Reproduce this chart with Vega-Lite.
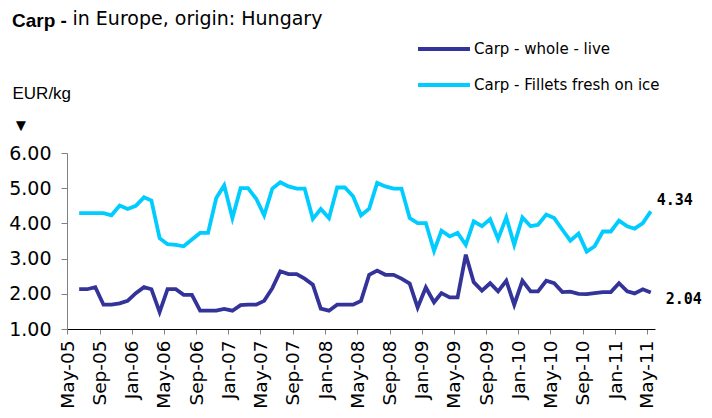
{
  "$schema": "https://vega.github.io/schema/vega-lite/v6.json",
  "width": 588,
  "height": 176,
  "autosize": "none",
  "padding": {"left": 67, "top": 153, "right": 57, "bottom": 89},
  "background": "white",
  "config": {"view": {"stroke": null}, "font": "Liberation Sans"},
  "title": {"text": "Carp -", "anchor": "start", "frame": "group", "fontSize": 19, "fontWeight": "bold", "font": "Liberation Sans", "color": "#000000", "dx": -55, "dy": 22, "offset": 0},
  "data": {"values": [
    {"date": "2005-06-16", "whole": 2.13, "fillets": 4.29},
    {"date": "2005-07-16", "whole": 2.13, "fillets": 4.29},
    {"date": "2005-08-16", "whole": 2.19, "fillets": 4.29},
    {"date": "2005-09-16", "whole": 1.69, "fillets": 4.29},
    {"date": "2005-10-16", "whole": 1.69, "fillets": 4.23},
    {"date": "2005-11-16", "whole": 1.73, "fillets": 4.51},
    {"date": "2005-12-16", "whole": 1.80, "fillets": 4.41},
    {"date": "2006-01-16", "whole": 2.02, "fillets": 4.50},
    {"date": "2006-02-16", "whole": 2.19, "fillets": 4.74},
    {"date": "2006-03-16", "whole": 2.13, "fillets": 4.65},
    {"date": "2006-04-16", "whole": 1.48, "fillets": 3.58},
    {"date": "2006-05-16", "whole": 2.13, "fillets": 3.41},
    {"date": "2006-06-16", "whole": 2.13, "fillets": 3.39},
    {"date": "2006-07-16", "whole": 1.97, "fillets": 3.35},
    {"date": "2006-08-16", "whole": 1.97, "fillets": 3.54},
    {"date": "2006-09-16", "whole": 1.52, "fillets": 3.73},
    {"date": "2006-10-16", "whole": 1.52, "fillets": 3.73},
    {"date": "2006-11-16", "whole": 1.52, "fillets": 4.72},
    {"date": "2006-12-16", "whole": 1.57, "fillets": 5.08},
    {"date": "2007-01-16", "whole": 1.52, "fillets": 4.15},
    {"date": "2007-02-16", "whole": 1.68, "fillets": 5.00},
    {"date": "2007-03-16", "whole": 1.69, "fillets": 5.00},
    {"date": "2007-04-16", "whole": 1.69, "fillets": 4.70},
    {"date": "2007-05-16", "whole": 1.80, "fillets": 4.23},
    {"date": "2007-06-16", "whole": 2.16, "fillets": 4.99},
    {"date": "2007-07-16", "whole": 2.64, "fillets": 5.17},
    {"date": "2007-08-16", "whole": 2.56, "fillets": 5.05},
    {"date": "2007-09-16", "whole": 2.56, "fillets": 4.99},
    {"date": "2007-10-16", "whole": 2.43, "fillets": 4.99},
    {"date": "2007-11-16", "whole": 2.26, "fillets": 4.13},
    {"date": "2007-12-16", "whole": 1.58, "fillets": 4.41},
    {"date": "2008-01-16", "whole": 1.52, "fillets": 4.15},
    {"date": "2008-02-16", "whole": 1.69, "fillets": 5.02},
    {"date": "2008-03-16", "whole": 1.69, "fillets": 5.02},
    {"date": "2008-04-16", "whole": 1.69, "fillets": 4.77},
    {"date": "2008-05-16", "whole": 1.80, "fillets": 4.23},
    {"date": "2008-06-16", "whole": 2.54, "fillets": 4.42},
    {"date": "2008-07-16", "whole": 2.66, "fillets": 5.15},
    {"date": "2008-08-16", "whole": 2.54, "fillets": 5.05},
    {"date": "2008-09-16", "whole": 2.54, "fillets": 4.99},
    {"date": "2008-10-16", "whole": 2.43, "fillets": 4.99},
    {"date": "2008-11-16", "whole": 2.29, "fillets": 4.15},
    {"date": "2008-12-16", "whole": 1.61, "fillets": 4.01},
    {"date": "2009-01-16", "whole": 2.18, "fillets": 4.01},
    {"date": "2009-02-16", "whole": 1.76, "fillets": 3.22},
    {"date": "2009-03-16", "whole": 2.02, "fillets": 3.79},
    {"date": "2009-04-16", "whole": 1.90, "fillets": 3.63},
    {"date": "2009-05-16", "whole": 1.90, "fillets": 3.73},
    {"date": "2009-06-16", "whole": 3.11, "fillets": 3.39},
    {"date": "2009-07-16", "whole": 2.33, "fillets": 4.06},
    {"date": "2009-08-16", "whole": 2.09, "fillets": 3.92},
    {"date": "2009-09-16", "whole": 2.30, "fillets": 4.12},
    {"date": "2009-10-16", "whole": 2.07, "fillets": 3.56},
    {"date": "2009-11-16", "whole": 2.37, "fillets": 4.17},
    {"date": "2009-12-16", "whole": 1.69, "fillets": 3.39},
    {"date": "2010-01-16", "whole": 2.37, "fillets": 4.17},
    {"date": "2010-02-16", "whole": 2.07, "fillets": 3.92},
    {"date": "2010-03-16", "whole": 2.07, "fillets": 3.96},
    {"date": "2010-04-16", "whole": 2.37, "fillets": 4.25},
    {"date": "2010-05-16", "whole": 2.30, "fillets": 4.15},
    {"date": "2010-06-16", "whole": 2.05, "fillets": 3.82},
    {"date": "2010-07-16", "whole": 2.06, "fillets": 3.51},
    {"date": "2010-08-16", "whole": 2.00, "fillets": 3.71},
    {"date": "2010-09-16", "whole": 1.99, "fillets": 3.20},
    {"date": "2010-10-16", "whole": 2.02, "fillets": 3.35},
    {"date": "2010-11-16", "whole": 2.05, "fillets": 3.77},
    {"date": "2010-12-16", "whole": 2.05, "fillets": 3.77},
    {"date": "2011-01-16", "whole": 2.30, "fillets": 4.08},
    {"date": "2011-02-16", "whole": 2.07, "fillets": 3.92},
    {"date": "2011-03-16", "whole": 2.01, "fillets": 3.85},
    {"date": "2011-04-16", "whole": 2.13, "fillets": 4.01},
    {"date": "2011-05-16", "whole": 2.04, "fillets": 4.34}
  ]},
  "transform": [{"fold": ["whole", "fillets"], "as": ["series", "value"]}],
  "encoding": {
    "x": {
      "field": "date", "type": "temporal",
      "scale": {"type": "utc", "domain": [{"year": 2005, "month": 5, "date": 1, "utc": true}, {"year": 2011, "month": 6, "date": 1, "utc": true}]},
      "axis": {
        "values": [
          {"year": 2005, "month": 5, "date": 1, "utc": true}, {"year": 2005, "month": 9, "date": 1, "utc": true},
          {"year": 2006, "month": 1, "date": 1, "utc": true}, {"year": 2006, "month": 5, "date": 1, "utc": true}, {"year": 2006, "month": 9, "date": 1, "utc": true},
          {"year": 2007, "month": 1, "date": 1, "utc": true}, {"year": 2007, "month": 5, "date": 1, "utc": true}, {"year": 2007, "month": 9, "date": 1, "utc": true},
          {"year": 2008, "month": 1, "date": 1, "utc": true}, {"year": 2008, "month": 5, "date": 1, "utc": true}, {"year": 2008, "month": 9, "date": 1, "utc": true},
          {"year": 2009, "month": 1, "date": 1, "utc": true}, {"year": 2009, "month": 5, "date": 1, "utc": true}, {"year": 2009, "month": 9, "date": 1, "utc": true},
          {"year": 2010, "month": 1, "date": 1, "utc": true}, {"year": 2010, "month": 5, "date": 1, "utc": true}, {"year": 2010, "month": 9, "date": 1, "utc": true},
          {"year": 2011, "month": 1, "date": 1, "utc": true}, {"year": 2011, "month": 5, "date": 1, "utc": true}
        ],
        "labelExpr": "utcFormat(datum.value, '%b-%y')",
        "labelAngle": -90, "labelAlign": "right", "labelBaseline": "middle",
        "labelFont": "DejaVu Sans", "labelFontSize": 18.5, "labelColor": "#000000", "labelPadding": 6, "labelOverlap": false,
        "tickSize": 5, "tickColor": "#808080", "domainColor": "#000000", "grid": false,
        "title": "in Europe, origin: Hungary", "titleX": 5, "titleY": -305, "titleAlign": "left", "titleBaseline": "alphabetic", "titleAngle": 0,
        "titleFont": "DejaVu Sans", "titleFontSize": 19, "titleFontWeight": "normal", "titleColor": "#000000"
      }
    },
    "y": {
      "field": "value", "type": "quantitative",
      "scale": {"domain": [1, 6], "nice": false, "zero": false},
      "axis": {
        "values": [1, 2, 3, 4, 5, 6], "format": ".2f",
        "labelFont": "DejaVu Sans", "labelFontSize": 19, "labelColor": "#000000", "labelPadding": 10,
        "tickSize": 6, "tickColor": "#808080", "domainColor": "#808080", "grid": false,
        "title": ["EUR/kg", "▼"], "titleAngle": 0, "titleX": -55, "titleY": -55, "titleAlign": "left", "titleBaseline": "alphabetic",
        "titleFont": "Liberation Sans", "titleFontSize": 17, "titleFontWeight": "normal", "titleLineHeight": 32, "titleColor": "#000000"
      }
    }
  },
  "layer": [
    {
      "mark": {"type": "line", "strokeWidth": 3.8},
      "encoding": {
        "color": {
          "field": "series", "type": "nominal",
          "scale": {"domain": ["whole", "fillets"], "range": ["#333399", "#00CCFF"]},
          "legend": {
            "orient": "none", "legendX": 349, "legendY": -132, "padding": 0,
            "symbolType": "stroke", "symbolSize": 2700, "symbolStrokeWidth": 4,
            "labelFont": "DejaVu Sans", "labelFontSize": 15, "labelColor": "#000000", "labelOffset": 2, "labelLimit": 400,
            "rowPadding": -12, "title": null,
            "labelExpr": "datum.label == 'whole' ? 'Carp - whole - live' : 'Carp - Fillets fresh on ice'"
          }
        }
      }
    },
    {
      "transform": [{"filter": "datum.series == 'fillets' && utcyear(datum.date) == 2011 && utcmonth(datum.date) == 4"}],
      "mark": {"type": "text", "align": "left", "baseline": "middle", "dx": 6, "dy": -11, "font": "DejaVu Sans Mono", "fontSize": 15, "fontWeight": "bold", "color": "#000000"},
      "encoding": {"text": {"field": "value", "type": "quantitative", "format": ".2f"}}
    },
    {
      "transform": [{"filter": "datum.series == 'whole' && utcyear(datum.date) == 2011 && utcmonth(datum.date) == 4"}],
      "mark": {"type": "text", "align": "left", "baseline": "middle", "dx": 15, "dy": 7, "font": "DejaVu Sans Mono", "fontSize": 15, "fontWeight": "bold", "color": "#000000"},
      "encoding": {"text": {"field": "value", "type": "quantitative", "format": ".2f"}}
    }
  ]
}
